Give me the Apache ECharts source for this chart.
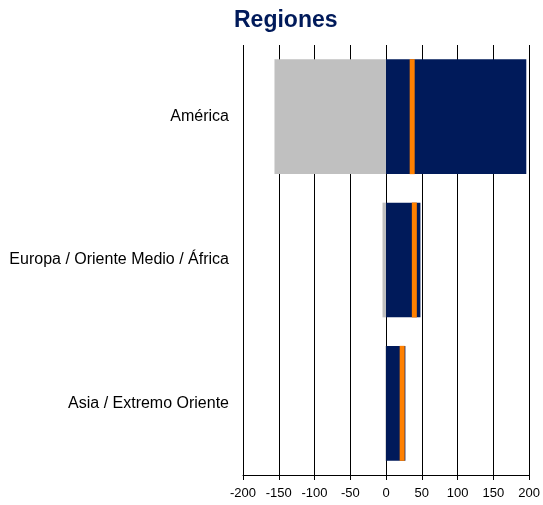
<!DOCTYPE html>
<html><head><meta charset="utf-8">
<script src="https://cdn.jsdelivr.net/npm/echarts@6/dist/echarts.min.js"></script>
<style>html,body{margin:0;padding:0;background:#fff}#c{width:543px;height:505px}</style>
</head><body><div id="c"></div>
<script>
var categories = ['América', 'Europa / Oriente Medio / África', 'Asia / Extremo Oriente'];
var negativeValues = [-156, -5, -1];
var positiveValues = [196, 48, 27];
var markerValues = [36.5, 39.5, 22.5];
var xTicks = {min: -200, max: 200, interval: 50};

var chart = echarts.init(document.getElementById('c'));
chart.setOption({
  animation: false,
  title: {text: 'Regiones', left: 229, top: 4,
    textStyle: {fontFamily: 'Liberation Sans, Arial', fontWeight: 'bold', fontSize: 23, color: '#001a5a'}},
  grid: {left: 243, right: 10, top: 45, bottom: 30, containLabel: false},
  xAxis: {type: 'value', min: xTicks.min, max: xTicks.max, interval: xTicks.interval,
    axisLine: {show: true, lineStyle: {color: '#000', width: 1}},
    axisTick: {show: true, length: 5, lineStyle: {color: '#000'}},
    splitLine: {show: true, lineStyle: {color: '#000', width: 1}},
    axisLabel: {color: '#000', fontSize: 13, fontFamily: 'Liberation Sans, Arial', margin: 12}},
  yAxis: {type: 'category', data: categories, inverse: true,
    axisLine: {show: false}, axisTick: {show: false},
    axisLabel: {color: '#000', fontSize: 16, fontFamily: 'Liberation Sans, Arial', margin: 14}},
  series: [
    {type: 'bar', stack: 's', data: negativeValues, barWidth: '80%', itemStyle: {color: '#c0c0c0'}},
    {type: 'bar', stack: 's', data: positiveValues, barWidth: '80%', itemStyle: {color: '#001a5a'}},
    {type: 'scatter', data: markerValues.map(function (v, i) { return [v, i]; }),
      symbol: 'rect', symbolSize: [5, 115], itemStyle: {color: '#ff8000', opacity: 1}, z: 5}
  ]
});
</script></body></html>
